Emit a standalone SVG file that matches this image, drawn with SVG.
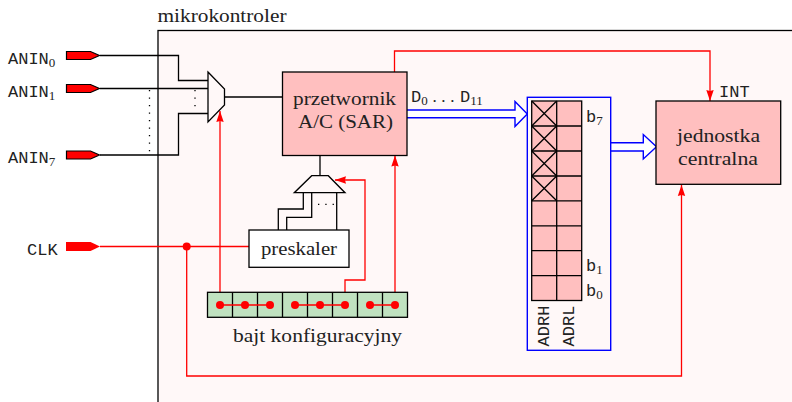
<svg xmlns="http://www.w3.org/2000/svg" width="792" height="402" viewBox="0 0 792 402">
<style>
.k{fill:none;stroke:#000;stroke-width:1.3}
.b{fill:#ffbfbf;stroke:#000;stroke-width:1.3}
.r{fill:none;stroke:#f00;stroke-width:1.3}
.u{fill:#fff;stroke:#00f;stroke-width:1.4}
.d{fill:#f00}
.p{fill:#f00;stroke:#000;stroke-width:1.2}
.g{fill:#c0e2c0;stroke:#000;stroke-width:1.3}
.dot{fill:none;stroke:#000;stroke-width:1.3;stroke-dasharray:1.3 6.2}
text{font-family:"Liberation Serif",serif;font-size:19.5px;fill:#222}
.m{font-family:"Liberation Mono",monospace;font-size:17px}
.s{font-family:"Liberation Serif",serif;font-size:13px}
.c{text-anchor:middle}
</style>
<defs>
<marker id="ah" markerUnits="userSpaceOnUse" markerWidth="13" markerHeight="10" refX="11" refY="4.5" orient="auto"><path d="M0,0.8L11,4.5L0,8.2L1,4.5Z" fill="#f00"/></marker>
</defs>
<rect id="frame" x="158" y="30.5" width="640" height="380" fill="#fff8f8" stroke="#000" stroke-width="1.3"/>
<text x="157.5" y="22" textLength="129" lengthAdjust="spacingAndGlyphs">mikrokontroler</text>

<g id="connectors">
<path class="k" d="M100,55.5H178.5V80.5H208"/>
<path class="k" d="M100,88.5H208"/>
<path class="k" d="M100,155H178.5V113.5H208"/>
<path class="dot" d="M149.5,90V154"/>
<path class="dot" d="M195,90V108"/>
<path class="k" d="M224.5,97H282.5"/>
<path class="k" d="M320,155.5V175.7"/>
<path class="k" d="M303.3,192.7V209H278.3V230"/>
<path class="k" d="M311.7,192.7V217.3H286.7V230"/>
<path class="k" d="M336.7,192.7V230"/>
<path class="dot" d="M318,204.3H337" style="stroke-dasharray:1.3 6"/>
<path class="r" d="M100,246.5H249"/>
<path class="r" d="M186.7,246.5V376H681.5V185" marker-end="url(#ah)"/>
<path class="r" d="M220,305V111" marker-end="url(#ah)"/>
<path class="r" d="M395,305V155.5" marker-end="url(#ah)"/>
<path class="r" d="M345,305V280H365V180H335" marker-end="url(#ah)"/>
<path class="r" d="M394.5,72V51H710V101" marker-end="url(#ah)"/>
<path class="u" d="M407,110H515V101.5L527.3,114L515,126.5V117.7H407"/>
<path class="u" d="M610.7,142.7H643.3V134.5L656.5,146.8L643.3,159V151H610.7"/>
</g>

<g id="pin-anin0"><path class="p" d="M66.5,51.5H90.5L99.5,55.5L90.5,59.5H66.5Z"/><text class="m" x="8" y="64">ANIN<tspan class="s" dy="3">0</tspan></text></g>
<g id="pin-anin1"><path class="p" d="M66.5,84.5H90.5L99.5,88.5L90.5,92.5H66.5Z"/><text class="m" x="8" y="97">ANIN<tspan class="s" dy="3">1</tspan></text></g>
<g id="pin-anin7"><path class="p" d="M66.5,151H90.5L99.5,155L90.5,159H66.5Z"/><text class="m" x="8" y="163">ANIN<tspan class="s" dy="3">7</tspan></text></g>
<g id="pin-clk"><path d="M66,242H90.5L100,246.5L90.5,251H66Z" fill="#f00"/><text class="m" x="27" y="255">CLK</text></g>

<g id="mux-analog"><path d="M208,72L224.5,89V105L208,122Z" fill="#fff8f8" stroke="#000" stroke-width="1.3"/></g>
<g id="przetwornik"><rect class="b" x="282.5" y="72" width="124.5" height="83.5"/><text x="293" y="105" textLength="103" lengthAdjust="spacingAndGlyphs">przetwornik</text><text x="298" y="127.5" textLength="95" lengthAdjust="spacingAndGlyphs">A/C (SAR)</text></g>
<text class="m" x="411" y="102">D<tspan class="s" dy="3">0</tspan><tspan x="432.5" dy="-3" style="font-family:'Liberation Serif',serif;letter-spacing:4.6px">...</tspan><tspan x="460">D</tspan><tspan class="s" dy="3">11</tspan></text>

<g id="mux-clock"><path d="M311.7,175.7H328.3L345,192.7H294.3Z" fill="#fff8f8" stroke="#000" stroke-width="1.3"/></g>
<g id="preskaler"><rect x="249" y="230" width="100" height="37.3" fill="#fff" stroke="#000" stroke-width="1.3"/><text x="261" y="255" textLength="76" lengthAdjust="spacingAndGlyphs">preskaler</text></g>

<g id="bajt-konfiguracyjny">
<rect class="g" x="207.5" y="292.3" width="200" height="25"/>
<path class="k" d="M232.5,292.3V317.3M257.5,292.3V317.3M282.5,292.3V317.3M307.5,292.3V317.3M332.5,292.3V317.3M357.5,292.3V317.3M382.5,292.3V317.3"/>
<path class="r" d="M220,305H270M295,305H345M370,305H395"/>
<g class="d"><circle cx="220" cy="305" r="4"/><circle cx="245" cy="305" r="4"/><circle cx="270" cy="305" r="4"/><circle cx="295" cy="305" r="4"/><circle cx="320" cy="305" r="4"/><circle cx="345" cy="305" r="4"/><circle cx="370" cy="305" r="4"/><circle cx="395" cy="305" r="4"/></g>
<text x="233" y="341.5" textLength="169" lengthAdjust="spacingAndGlyphs">bajt konfiguracyjny</text>
</g>
<circle class="d" cx="186.7" cy="246.5" r="4"/>

<g id="rejestr">
<rect x="527.3" y="97.3" width="83.4" height="253" fill="#fff8f8" stroke="#00f" stroke-width="1.4"/>
<rect class="b" x="531.7" y="101" width="50" height="199.5"/>
<path class="k" d="M556.7,101V300.5M531.7,126H581.7M531.7,151H581.7M531.7,176H581.7M531.7,200.8H581.7M531.7,225.8H581.7M531.7,250.7H581.7M531.7,275.6H581.7"/>
<path class="k" d="M531.7,101L556.7,126M556.7,101L531.7,126M531.7,126L556.7,151M556.7,126L531.7,151M531.7,151L556.7,176M556.7,151L531.7,176M531.7,176L556.7,200.8M556.7,176L531.7,200.8"/>
<text class="m" x="586" y="122">b<tspan class="s" dy="3">7</tspan></text>
<text class="m" x="586" y="271">b<tspan class="s" dy="3">1</tspan></text>
<text class="m" x="586" y="296">b<tspan class="s" dy="3">0</tspan></text>
<text class="m" transform="translate(549,346.5) rotate(-90)" textLength="41">ADRH</text>
<text class="m" transform="translate(573.5,346.5) rotate(-90)" textLength="41">ADRL</text>
</g>

<g id="jednostka"><rect class="b" x="656" y="101" width="124.7" height="83.3"/><text x="677" y="141.5" textLength="83" lengthAdjust="spacingAndGlyphs">jednostka</text><text x="678" y="165" textLength="80" lengthAdjust="spacingAndGlyphs">centralna</text></g>
<text class="m" x="719" y="97">INT</text>
</svg>
